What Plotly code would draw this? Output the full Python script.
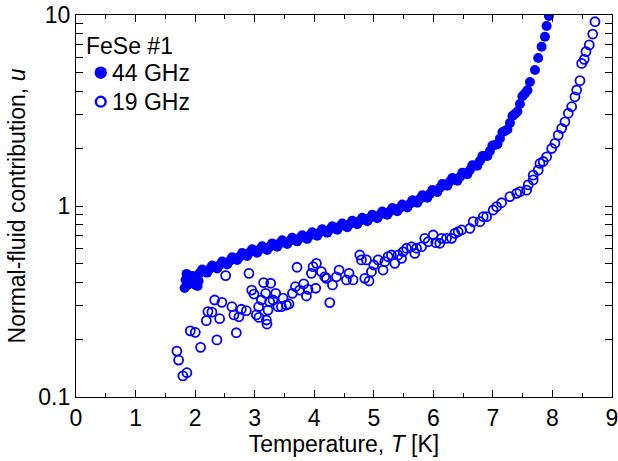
import plotly.graph_objects as go

# 44 GHz (filled) : temperature [K], normal-fluid contribution u
t44 = [1.824, 1.840, 1.857, 1.874, 1.891, 1.924, 1.958, 2.008, 2.042, 2.059,
       2.076, 2.160, 2.244, 2.328, 2.412, 2.496, 2.580, 2.664, 2.748, 2.832,
       2.916, 3.000, 3.084, 3.168, 3.252, 3.336, 3.420, 3.504, 3.588, 3.672,
       3.756, 3.840, 3.924, 4.008, 4.092, 4.176, 4.261, 4.345, 4.429, 4.513,
       4.597, 4.681, 4.765, 4.849, 4.933, 5.017, 5.101, 5.185, 5.269, 5.353,
       5.437, 5.521, 5.605, 5.689, 5.773, 5.857, 5.941, 6.025, 6.109, 6.193,
       6.277, 6.361, 6.445, 6.529, 6.613, 6.697, 6.782, 6.866, 6.950, 7.034,
       7.118, 7.202, 7.286, 7.370, 7.454, 7.538, 7.622, 7.706, 7.761, 7.818,
       7.874, 7.902, 7.941]
u44 = [0.372, 0.410, 0.441, 0.386, 0.425, 0.400, 0.430, 0.386, 0.381, 0.405,
       0.446, 0.457, 0.468, 0.480, 0.491, 0.503, 0.515, 0.531, 0.543, 0.557,
       0.571, 0.581, 0.592, 0.603, 0.612, 0.625, 0.637, 0.648, 0.656, 0.668,
       0.678, 0.688, 0.701, 0.714, 0.726, 0.740, 0.753, 0.767, 0.781, 0.791,
       0.805, 0.820, 0.835, 0.850, 0.865, 0.881, 0.897, 0.919, 0.936, 0.959,
       0.976, 1.000, 1.024, 1.056, 1.088, 1.121, 1.156, 1.198, 1.242, 1.288,
       1.343, 1.376, 1.419, 1.479, 1.543, 1.629, 1.720, 1.827, 1.941, 2.086,
       2.256, 2.470, 2.722, 3.032, 3.420, 3.880, 4.458, 5.153, 5.960, 6.820,
       7.700, 8.750, 9.880]
# further 44 GHz points read along the upper / lower edge of the dense band
t44_edge = [2.118, 2.202, 2.286, 2.370, 2.454, 2.538, 2.622, 2.706, 2.790, 2.874,
            2.958, 3.042, 3.126, 3.210, 3.294, 3.378, 3.462, 3.546, 3.630, 3.714,
            3.798, 3.882, 3.966, 4.050, 4.134, 4.218, 4.303, 4.387, 4.471, 4.555,
            4.639, 4.723, 4.807, 4.891, 4.975, 5.059, 5.143, 5.227, 5.311, 5.395,
            5.479, 5.563, 5.647, 5.731, 5.815, 5.899, 5.983, 6.067, 6.151, 6.235,
            6.319, 6.403, 6.487, 6.571, 6.655, 6.739, 6.824, 6.908, 6.992, 7.076,
            7.160, 7.244, 7.328, 7.412, 7.496, 7.580]
u44_edge = [0.465, 0.448, 0.488, 0.471, 0.512, 0.494, 0.539, 0.521, 0.567, 0.547,
            0.593, 0.569, 0.615, 0.589, 0.637, 0.612, 0.662, 0.632, 0.682, 0.653,
            0.703, 0.673, 0.729, 0.698, 0.755, 0.724, 0.783, 0.751, 0.810, 0.774,
            0.837, 0.803, 0.868, 0.832, 0.899, 0.862, 0.935, 0.899, 0.976, 0.938,
            1.018, 0.982, 1.071, 1.040, 1.137, 1.104, 1.212, 1.183, 1.303, 1.276,
            1.400, 1.355, 1.492, 1.465, 1.633, 1.624, 1.826, 1.827, 2.072, 2.104,
            2.432, 2.515, 2.959, 3.123, 3.752, 4.034]

# 19 GHz (open)
t19 = [1.694, 1.723, 1.795, 1.862, 1.919, 2.003, 2.092, 2.188, 2.215, 2.282,
       2.328, 2.366, 2.412, 2.450, 2.513, 2.618, 2.652, 2.692, 2.736, 2.776,
       2.861, 2.904, 2.950, 2.988, 3.029, 3.072, 3.067, 3.113, 3.151, 3.185,
       3.207, 3.197, 3.224, 3.252, 3.269, 3.308, 3.353, 3.392, 3.449, 3.476,
       3.533, 3.576, 3.634, 3.684, 3.711, 3.756, 3.824, 3.869, 3.896, 3.953,
       3.980, 4.037, 4.025, 4.121, 4.176, 4.205, 4.261, 4.306, 4.373, 4.417,
       4.541, 4.585, 4.652, 4.765, 4.793, 4.849, 4.877, 4.921, 4.961, 5.000,
       5.072, 5.156, 5.185, 5.240, 5.297, 5.353, 5.408, 5.466, 5.492, 5.550,
       5.634, 5.689, 5.718, 5.802, 5.857, 5.913, 5.997, 6.042, 6.109, 6.138,
       6.222, 6.306, 6.361, 6.417, 6.474, 6.613, 6.669, 6.782, 6.837, 6.894,
       7.005, 7.062, 7.146, 7.286, 7.398, 7.454, 7.566, 7.593, 7.677, 7.677,
       7.761, 7.790, 7.845, 7.902, 7.987, 8.042, 8.097, 8.155, 8.210, 8.266,
       8.323, 8.378, 8.407, 8.462, 8.491, 8.534, 8.563, 8.618, 8.676, 8.714]
u19 = [0.174, 0.156, 0.129, 0.134, 0.222, 0.218, 0.182, 0.251, 0.280, 0.278,
       0.322, 0.199, 0.257, 0.313, 0.432, 0.297, 0.269, 0.217, 0.263, 0.288,
       0.283, 0.444, 0.363, 0.346, 0.269, 0.261, 0.297, 0.322, 0.397, 0.349,
       0.241, 0.253, 0.285, 0.315, 0.394, 0.322, 0.349, 0.297, 0.297, 0.329,
       0.303, 0.307, 0.349, 0.378, 0.478, 0.363, 0.391, 0.338, 0.366, 0.444,
       0.481, 0.501, 0.371, 0.453, 0.426, 0.418, 0.312, 0.386, 0.426, 0.462,
       0.410, 0.444, 0.410, 0.554, 0.522, 0.418, 0.522, 0.405, 0.453, 0.491,
       0.522, 0.462, 0.511, 0.543, 0.554, 0.501, 0.554, 0.532, 0.576, 0.601,
       0.612, 0.565, 0.601, 0.612, 0.677, 0.650, 0.705, 0.643, 0.638, 0.677,
       0.677, 0.677, 0.719, 0.733, 0.749, 0.764, 0.828, 0.828, 0.879, 0.879,
       0.953, 0.992, 1.040, 1.120, 1.165, 1.190, 1.210, 1.290, 1.370, 1.450,
       1.540, 1.670, 1.710, 1.810, 2.000, 2.130, 2.350, 2.550, 2.760, 3.060,
       3.310, 3.730, 4.050, 4.530, 5.580, 5.860, 6.430, 6.970, 7.950, 9.220]

x_ticks = [0, 1, 2, 3, 4, 5, 6, 7, 8, 9]
y_ticks = [0.1, 1, 10]
y_ticktext = ["0.1", "1", "10"]

legend_title = "FeSe #1"
series_names = ["44 GHz", "19 GHz"]

BLUE = "#0000ff"
FONT = "Liberation Sans, Arial, sans-serif"
FS = 23

fig = go.Figure()
fig.add_trace(go.Scatter(
    x=t44 + t44_edge, y=u44 + u44_edge, mode="markers", name=series_names[0],
    marker=dict(symbol="circle", size=10, color=BLUE, line=dict(width=0)),
))
fig.add_trace(go.Scatter(
    x=t19, y=u19, mode="markers", name=series_names[1],
    marker=dict(symbol="circle-open", size=9, color=BLUE, line=dict(width=1.8, color=BLUE)),
))
# empty trace that only anchors the top (mirror) temperature axis
fig.add_trace(go.Scatter(x=[], y=[], xaxis="x2", yaxis="y", showlegend=False, hoverinfo="skip"))

axis_common = dict(
    showline=True, linecolor="black", linewidth=1.3, mirror="allticks",
    ticks="inside", ticklen=7, tickwidth=1.2, tickcolor="black",
    showgrid=False, zeroline=False, automargin=False,
    ticklabeloverflow="allow",
    tickfont=dict(family=FONT, size=FS, color="black"),
)
x_minor = dict(dtick=0.5, ticks="inside", ticklen=4, tickwidth=1.1, tickcolor="black", showgrid=False)

# hand-placed legend (text + key symbols) in the upper-left corner of the axes
annotations = [
    dict(text=legend_title, x=0.015, y=0.920, xref="paper", yref="paper",
         xanchor="left", yanchor="middle", showarrow=False,
         font=dict(family=FONT, size=FS, color="black")),
    dict(text=series_names[0], x=0.063, y=0.849, xref="paper", yref="paper",
         xanchor="left", yanchor="middle", showarrow=False,
         font=dict(family=FONT, size=FS, color="black")),
    dict(text=series_names[1], x=0.063, y=0.773, xref="paper", yref="paper",
         xanchor="left", yanchor="middle", showarrow=False,
         font=dict(family=FONT, size=FS, color="black")),
]
shapes = [
    dict(type="circle", xref="paper", yref="paper", xsizemode="pixel", ysizemode="pixel",
         xanchor=0.0462, yanchor=0.849, x0=-6.2, x1=6.2, y0=-6.2, y1=6.2,
         fillcolor=BLUE, line=dict(width=0)),
    dict(type="circle", xref="paper", yref="paper", xsizemode="pixel", ysizemode="pixel",
         xanchor=0.0462, yanchor=0.773, x0=-4.9, x1=4.9, y0=-4.9, y1=4.9,
         fillcolor="rgba(0,0,0,0)", line=dict(width=2.4, color=BLUE)),
]

fig.update_layout(
    width=618, height=461,
    margin=dict(l=76, r=6, t=15, b=64),
    paper_bgcolor="white", plot_bgcolor="white",
    font=dict(family=FONT, size=FS, color="black"),
    xaxis=dict(
        range=[0, 9], tickvals=x_ticks,
        title=dict(text="Temperature, <i>T</i> [K]", font=dict(family=FONT, size=FS), standoff=4),
        minor=x_minor,
        **axis_common,
    ),
    xaxis2=dict(
        overlaying="x", side="top", anchor="y", range=[0, 9], tickvals=x_ticks,
        showticklabels=False, showline=True, linecolor="black", linewidth=1.3,
        ticks="inside", ticklen=7, tickwidth=1.2, tickcolor="black",
        showgrid=False, zeroline=False, automargin=False,
        minor=x_minor,
    ),
    yaxis=dict(
        type="log", range=[-1, 1], tickvals=y_ticks, ticktext=y_ticktext,
        title=dict(text="Normal-fluid contribution, <i>u</i>", font=dict(family=FONT, size=FS), standoff=6),
        minor=dict(dtick="D1", ticks="inside", ticklen=4, tickwidth=1.1, tickcolor="black", showgrid=False),
        **axis_common,
    ),
    showlegend=False,
    annotations=annotations,
    shapes=shapes,
)

# remove the browser's default 8 px page margin so the figure sits at the window corner
fig.write_html("out.html", config={"displayModeBar": False},
               post_script="document.body.style.margin='0px';")
